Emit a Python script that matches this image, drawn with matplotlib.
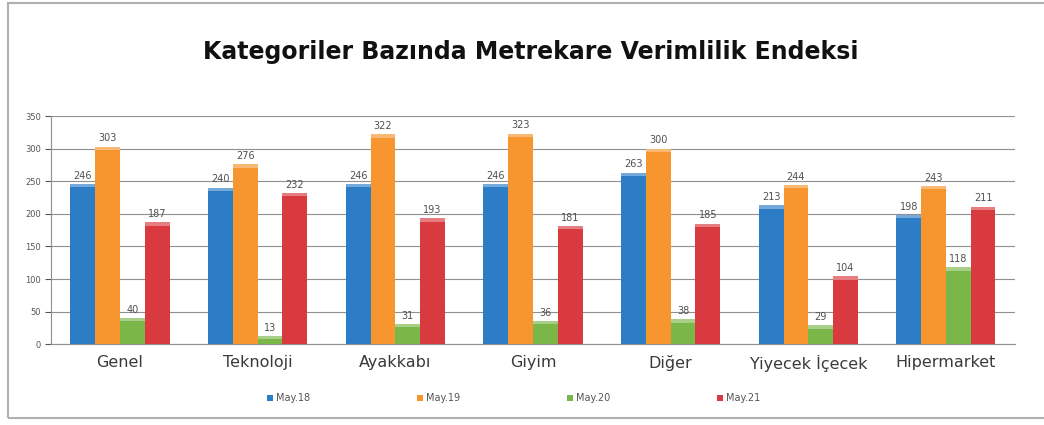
import numpy as np
import matplotlib.pyplot as plt
from matplotlib.patches import Rectangle

categories = ['Genel', 'Teknoloji', 'Ayakkabı', 'Giyim', 'Diğer', 'Yiyecek İçecek', 'Hipermarket']
series_names = ['May.18', 'May.19', 'May.20', 'May.21']
may18 = [246, 240, 246, 246, 263, 213, 198]
may19 = [303, 276, 322, 323, 300, 244, 243]
may20 = [40, 13, 31, 36, 38, 29, 118]
may21 = [187, 232, 193, 181, 185, 104, 211]
colors = ['#2c7cc6', '#f7952e', '#7ab648', '#d93a3f']

fig = plt.figure(figsize=(10.44, 4.25), dpi=100)
ax = fig.add_axes([0.049, 0.19, 0.923, 0.537])

# outer chart frame
fig.patches.append(Rectangle((0.008, 0.016), 1.1, 0.977, transform=fig.transFigure,
                             fill=False, edgecolor='#b0b0b0', lw=1.5))

x = np.arange(len(categories))
w = 0.18
all_vals = [may18, may19, may20, may21]
for i, vals in enumerate(all_vals):
    pos = x + (i - 1.5) * w
    bars = ax.bar(pos, vals, w, color=colors[i], label=series_names[i], zorder=3)
    # light strip on top of each bar (glossy look)
    ax.bar(pos, [5] * len(vals), w, bottom=[v - 5 for v in vals], color='white',
           alpha=0.35, lw=0, zorder=3.5)
    for b, v in zip(bars, vals):
        ax.text(b.get_x() + b.get_width() / 2, v + 5, str(v), ha='center', va='bottom',
                fontsize=7, color='#505050', zorder=4)

ax.set_ylim(0, 350)
ax.set_xlim(-0.5, len(categories) - 0.5)
ax.set_yticks(range(0, 351, 50))
ax.tick_params(axis='y', labelsize=6, colors='#555555', length=4, width=0.8)
ax.tick_params(axis='x', labelsize=11.5, colors='#3a3a3a', length=0, pad=8)
ax.set_xticks(x)
ax.set_xticklabels(categories)
ax.yaxis.grid(True, color='#909090', lw=0.8, zorder=0)
for s in ['top', 'right']:
    ax.spines[s].set_visible(False)
ax.spines['left'].set_color('#909090')
ax.spines['bottom'].set_color('#909090')

fig.text(0.508, 0.877, 'Kategoriler Bazında Metrekare Verimlilik Endeksi', ha='center', va='center',
         fontsize=17, fontweight='bold', color='#111111')

fig.legend(loc='center', bbox_to_anchor=(0.492, 0.063), ncol=4, frameon=False, fontsize=7,
           handlelength=0.6, handleheight=0.6, columnspacing=11, handletextpad=0.3,
           labelcolor='#555555')

fig.savefig('out.png', dpi=100)
